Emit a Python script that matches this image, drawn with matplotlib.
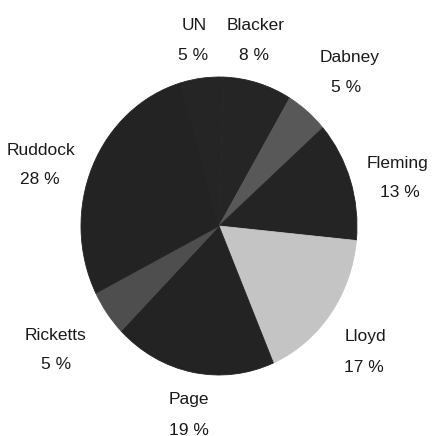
import matplotlib
matplotlib.use("Agg")
import matplotlib.pyplot as plt

# Data
houses = ["UN", "Blacker", "Dabney", "Fleming", "Lloyd", "Page", "Ricketts", "Ruddock"]
percents = [5, 8, 5, 13, 17, 19, 5, 28]
pct_labels = ["5 %", "8 %", "5 %", "13 %", "17 %", "19 %", "5 %", "28 %"]

colors = ["#252525", "#252525", "#585858", "#242424", "#c4c4c4", "#232323", "#4e4e4e", "#232323"]

# label centre positions in pixels (name, percent)
label_px = {
    "UN": (194, 25, 193, 55),
    "Blacker": (256, 25, 254, 55),
    "Dabney": (350, 57, 346, 87),
    "Fleming": (398, 163, 400, 192),
    "Lloyd": (365, 337, 364, 367),
    "Page": (189, 399, 189, 430),
    "Ricketts": (56, 335, 56, 364),
    "Ruddock": (41, 150, 40, 179),
}

W, H = 437, 436
fig = plt.figure(figsize=(W / 100, H / 100), dpi=100)
fig.patch.set_facecolor("white")

cx, cy, rx, ry = 219, 226, 138, 149
ax = fig.add_axes([(cx - rx) / W, (H - (cy + ry)) / H, 2 * rx / W, 2 * ry / H])
wedges, _ = ax.pie(percents, colors=colors, startangle=106, counterclock=False,
                   radius=1.0,
                   wedgeprops=dict(linewidth=0.6, clip_on=False))
for w, c in zip(wedges, colors):
    w.set_edgecolor(c)
ax.set_aspect("auto")
ax.set_xlim(-1, 1)
ax.set_ylim(-1, 1)
ax.axis("off")

fs = 12.5
for name, pct in zip(houses, pct_labels):
    nx, ny, px, py = label_px[name]
    fig.text(nx / W, 1 - ny / H, name, ha="center", va="center", fontsize=fs,
             family=["Liberation Sans", "DejaVu Sans"], color="#1a1a1a")
    fig.text(px / W, 1 - py / H, pct, ha="center", va="center", fontsize=fs,
             family=["Liberation Sans", "DejaVu Sans"], color="#1a1a1a")

fig.savefig("out.png", dpi=100, facecolor="white")
